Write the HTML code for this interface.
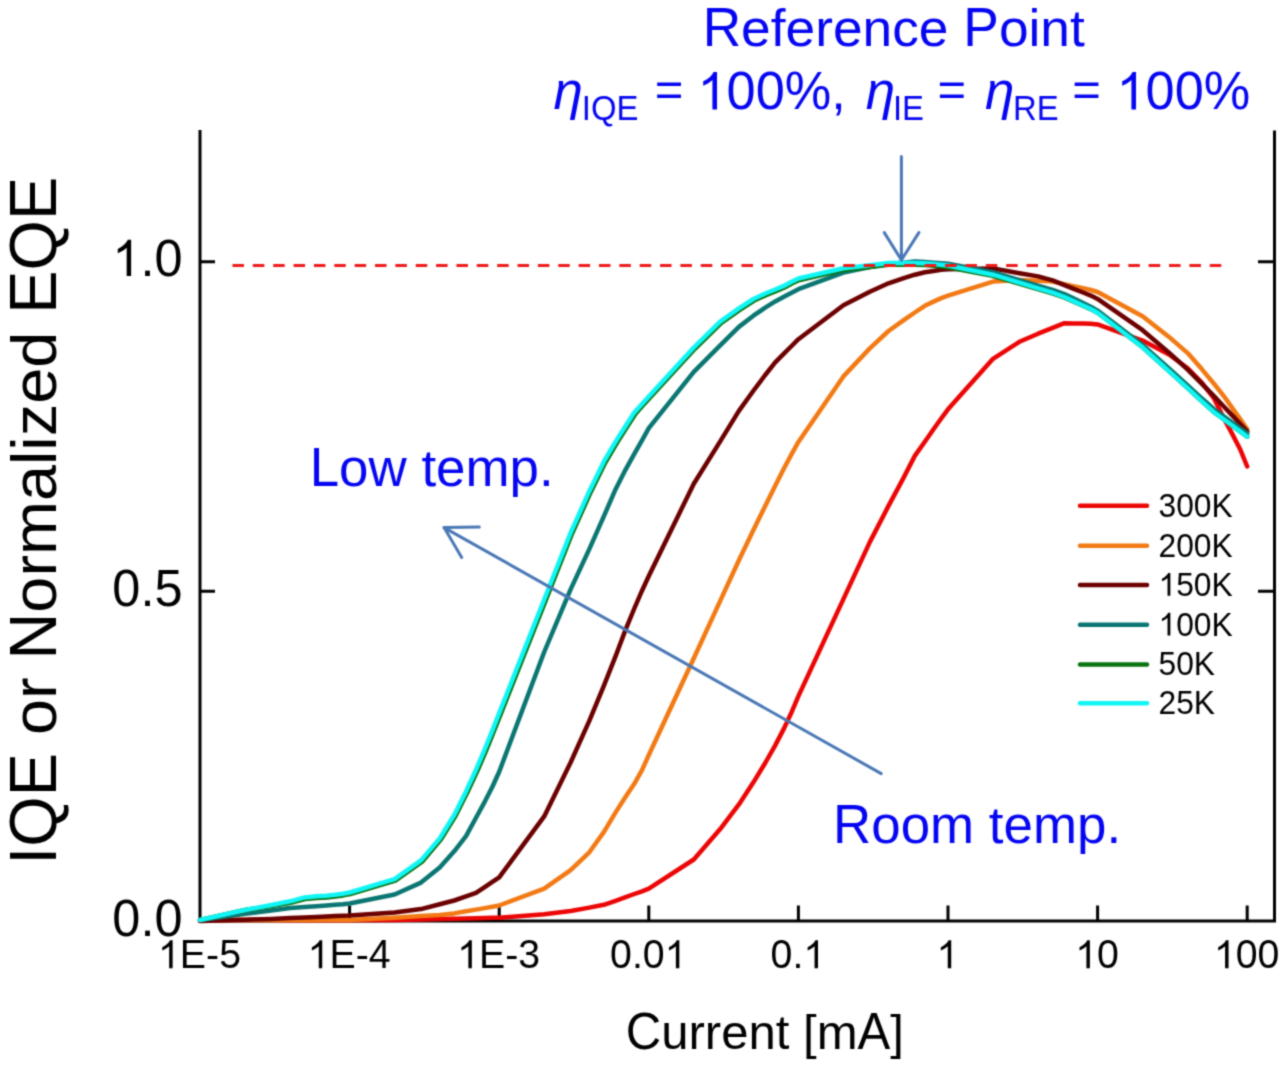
<!DOCTYPE html>
<html><head><meta charset="utf-8"><style>
html,body{margin:0;padding:0;background:#fff;overflow:hidden;}
svg{display:block;}
text{font-family:"Liberation Sans",sans-serif;}
</style></head><body>
<svg width="1280" height="1066" viewBox="0 0 1280 1066">
<defs><filter id="soft" x="0" y="0" width="1280" height="1066" filterUnits="userSpaceOnUse" color-interpolation-filters="sRGB"><feConvolveMatrix order="5" kernelMatrix="0.00003 0.00101 0.00331 0.00101 0.00003 0.00101 0.03529 0.11525 0.03529 0.00101 0.00331 0.11525 0.37636 0.11525 0.00331 0.00101 0.03529 0.11525 0.03529 0.00101 0.00003 0.00101 0.00331 0.00101 0.00003" divisor="1" edgeMode="duplicate" preserveAlpha="true"/></filter></defs>
<g filter="url(#soft)">
<rect width="1280" height="1066" fill="#fff"/>
<g transform="translate(702.63,45.70)" fill="#0505f2"><text x="0" y="0" transform="translate(0.00,0) scale(1,1.041)" font-size="53.3" xml:space="preserve">R</text><text x="0" y="0" transform="translate(38.49,0) scale(1,0.981)" font-size="53.3" xml:space="preserve">eference</text><text x="0" y="0" transform="translate(260.72,0) scale(1,1.041)" font-size="53.3" xml:space="preserve">P</text><text x="0" y="0" transform="translate(296.27,0) scale(1,0.981)" font-size="53.3" xml:space="preserve">oint</text></g>
<g transform="translate(553.42,109.40)" fill="#0505f2"><text x="0.00" y="0" font-size="53" font-style="italic" xml:space="preserve">η</text></g>
<g transform="translate(581.80,120.00)" fill="#0505f2"><text x="0" y="0" transform="translate(0.00,0) scale(1,1.041)" font-size="32.9" xml:space="preserve">IQE</text></g>
<g transform="translate(654.71,106.20)" fill="#0505f2"><text x="0.00" y="0" font-size="49" xml:space="preserve">=</text></g>
<g transform="translate(697.53,109.40)" fill="#0505f2"><path transform="translate(0.00,0) scale(0.02554,-0.02554)" d="M763,0 L583,0 L583,1147 C536,1102 474,1056 405,1015 C336,974 274,944 222,925 L222,1098 C318,1143 402,1198 474,1263 C546,1328 597,1396 627,1466 L763,1466 Z"/><text x="0" y="0" transform="translate(29.09,0) scale(1,1.041)" font-size="52.3" xml:space="preserve">00%</text><text x="133.76" y="0" font-size="52.3" xml:space="preserve">,</text></g>
<g transform="translate(865.72,109.40)" fill="#0505f2"><text x="0.00" y="0" font-size="53" font-style="italic" xml:space="preserve">η</text></g>
<g transform="translate(892.90,120.00)" fill="#0505f2"><text x="0" y="0" transform="translate(0.00,0) scale(1,1.041)" font-size="32.9" xml:space="preserve">IE</text></g>
<g transform="translate(937.41,106.20)" fill="#0505f2"><text x="0.00" y="0" font-size="49" xml:space="preserve">=</text></g>
<g transform="translate(984.92,109.40)" fill="#0505f2"><text x="0.00" y="0" font-size="53" font-style="italic" xml:space="preserve">η</text></g>
<g transform="translate(1012.90,120.00)" fill="#0505f2"><text x="0" y="0" transform="translate(0.00,0) scale(1,1.041)" font-size="32.9" xml:space="preserve">RE</text></g>
<g transform="translate(1072.21,106.20)" fill="#0505f2"><text x="0.00" y="0" font-size="49" xml:space="preserve">=</text></g>
<g transform="translate(1116.53,109.40)" fill="#0505f2"><path transform="translate(0.00,0) scale(0.02554,-0.02554)" d="M763,0 L583,0 L583,1147 C536,1102 474,1056 405,1015 C336,974 274,944 222,925 L222,1098 C318,1143 402,1198 474,1263 C546,1328 597,1396 627,1466 L763,1466 Z"/><text x="0" y="0" transform="translate(29.09,0) scale(1,1.041)" font-size="52.3" xml:space="preserve">00%</text></g>
<g stroke="#000" stroke-width="3" fill="none">
<path d="M200 130 V921 H1274.5 V130.5"/>
<path d="M200 261.7 H215 M200 591.2 H215 M1274.5 261.7 H1258 M1274.5 591.2 H1258"/>
<path d="M349.6 921 V905.5 M499.2 921 V905.5 M648.8 921 V905.5 M798.4 921 V905.5 M948.0 921 V905.5 M1097.6 921 V905.5 M1247.2 921 V905.5 "/>
</g>
<g transform="translate(182.50,276.00)" fill="#000"><path transform="translate(-70.20,0) scale(0.02466,-0.02466)" d="M763,0 L583,0 L583,1147 C536,1102 474,1056 405,1015 C336,974 274,944 222,925 L222,1098 C318,1143 402,1198 474,1263 C546,1328 597,1396 627,1466 L763,1466 Z"/><text x="-42.12" y="0" font-size="50.5" xml:space="preserve">.</text><text x="0" y="0" transform="translate(-28.09,0) scale(1,1.041)" font-size="50.5" xml:space="preserve">0</text></g>
<g transform="translate(182.50,605.80)" fill="#000"><text x="0" y="0" transform="translate(-70.20,0) scale(1,1.041)" font-size="50.5" xml:space="preserve">0</text><text x="-42.12" y="0" font-size="50.5" xml:space="preserve">.</text><text x="0" y="0" transform="translate(-28.09,0) scale(1,1.041)" font-size="50.5" xml:space="preserve">5</text></g>
<g transform="translate(182.50,935.50)" fill="#000"><text x="0" y="0" transform="translate(-70.20,0) scale(1,1.041)" font-size="50.5" xml:space="preserve">0</text><text x="-42.12" y="0" font-size="50.5" xml:space="preserve">.</text><text x="0" y="0" transform="translate(-28.09,0) scale(1,1.041)" font-size="50.5" xml:space="preserve">0</text></g>
<g transform="translate(199.50,968.30)" fill="#000"><path transform="translate(-41.51,0) scale(0.01919,-0.01919)" d="M763,0 L583,0 L583,1147 C536,1102 474,1056 405,1015 C336,974 274,944 222,925 L222,1098 C318,1143 402,1198 474,1263 C546,1328 597,1396 627,1466 L763,1466 Z"/><text x="0" y="0" transform="translate(-19.65,0) scale(1,1.041)" font-size="39.3" xml:space="preserve">E</text><text x="6.56" y="0" font-size="39.3" xml:space="preserve">-</text><text x="0" y="0" transform="translate(19.65,0) scale(1,1.041)" font-size="39.3" xml:space="preserve">5</text></g>
<g transform="translate(349.10,968.30)" fill="#000"><path transform="translate(-41.51,0) scale(0.01919,-0.01919)" d="M763,0 L583,0 L583,1147 C536,1102 474,1056 405,1015 C336,974 274,944 222,925 L222,1098 C318,1143 402,1198 474,1263 C546,1328 597,1396 627,1466 L763,1466 Z"/><text x="0" y="0" transform="translate(-19.65,0) scale(1,1.041)" font-size="39.3" xml:space="preserve">E</text><text x="6.56" y="0" font-size="39.3" xml:space="preserve">-</text><text x="0" y="0" transform="translate(19.65,0) scale(1,1.041)" font-size="39.3" xml:space="preserve">4</text></g>
<g transform="translate(498.70,968.30)" fill="#000"><path transform="translate(-41.51,0) scale(0.01919,-0.01919)" d="M763,0 L583,0 L583,1147 C536,1102 474,1056 405,1015 C336,974 274,944 222,925 L222,1098 C318,1143 402,1198 474,1263 C546,1328 597,1396 627,1466 L763,1466 Z"/><text x="0" y="0" transform="translate(-19.65,0) scale(1,1.041)" font-size="39.3" xml:space="preserve">E</text><text x="6.56" y="0" font-size="39.3" xml:space="preserve">-</text><text x="0" y="0" transform="translate(19.65,0) scale(1,1.041)" font-size="39.3" xml:space="preserve">3</text></g>
<g transform="translate(648.30,968.30)" fill="#000"><text x="0" y="0" transform="translate(-38.24,0) scale(1,1.041)" font-size="39.3" xml:space="preserve">0</text><text x="-16.39" y="0" font-size="39.3" xml:space="preserve">.</text><text x="0" y="0" transform="translate(-5.47,0) scale(1,1.041)" font-size="39.3" xml:space="preserve">0</text><path transform="translate(16.39,0) scale(0.01919,-0.01919)" d="M763,0 L583,0 L583,1147 C536,1102 474,1056 405,1015 C336,974 274,944 222,925 L222,1098 C318,1143 402,1198 474,1263 C546,1328 597,1396 627,1466 L763,1466 Z"/></g>
<g transform="translate(797.90,968.30)" fill="#000"><text x="0" y="0" transform="translate(-27.32,0) scale(1,1.041)" font-size="39.3" xml:space="preserve">0</text><text x="-5.46" y="0" font-size="39.3" xml:space="preserve">.</text><path transform="translate(5.46,0) scale(0.01919,-0.01919)" d="M763,0 L583,0 L583,1147 C536,1102 474,1056 405,1015 C336,974 274,944 222,925 L222,1098 C318,1143 402,1198 474,1263 C546,1328 597,1396 627,1466 L763,1466 Z"/></g>
<g transform="translate(947.50,968.30)" fill="#000"><path transform="translate(-10.93,0) scale(0.01919,-0.01919)" d="M763,0 L583,0 L583,1147 C536,1102 474,1056 405,1015 C336,974 274,944 222,925 L222,1098 C318,1143 402,1198 474,1263 C546,1328 597,1396 627,1466 L763,1466 Z"/></g>
<g transform="translate(1097.10,968.30)" fill="#000"><path transform="translate(-21.86,0) scale(0.01919,-0.01919)" d="M763,0 L583,0 L583,1147 C536,1102 474,1056 405,1015 C336,974 274,944 222,925 L222,1098 C318,1143 402,1198 474,1263 C546,1328 597,1396 627,1466 L763,1466 Z"/><text x="0" y="0" transform="translate(0.00,0) scale(1,1.041)" font-size="39.3" xml:space="preserve">0</text></g>
<g transform="translate(1246.70,968.30)" fill="#000"><path transform="translate(-32.79,0) scale(0.01919,-0.01919)" d="M763,0 L583,0 L583,1147 C536,1102 474,1056 405,1015 C336,974 274,944 222,925 L222,1098 C318,1143 402,1198 474,1263 C546,1328 597,1396 627,1466 L763,1466 Z"/><text x="0" y="0" transform="translate(-10.93,0) scale(1,1.041)" font-size="39.3" xml:space="preserve">00</text></g>
<g transform="translate(625.71,1049.30)" fill="#000"><text x="0" y="0" transform="translate(0.00,0) scale(1,1.041)" font-size="49.1" xml:space="preserve">C</text><text x="0" y="0" transform="translate(35.46,0) scale(1,0.981)" font-size="49.1" xml:space="preserve">urrent</text><text x="0" y="0" transform="translate(177.36,0) scale(1,0.981)" font-size="49.1" xml:space="preserve">[m</text><text x="0" y="0" transform="translate(231.91,0) scale(1,1.041)" font-size="49.1" xml:space="preserve">A</text><text x="0" y="0" transform="translate(264.66,0) scale(1,0.981)" font-size="49.1" xml:space="preserve">]</text></g>
<g transform="translate(55.80,864.68) rotate(-90)" fill="#000"><text x="0" y="0" transform="translate(0.00,0) scale(1,1.041)" font-size="64.8" xml:space="preserve">IQE</text><text x="0" y="0" transform="translate(129.63,0) scale(1,0.981)" font-size="64.8" xml:space="preserve">or</text><text x="0" y="0" transform="translate(205.25,0) scale(1,1.041)" font-size="64.8" xml:space="preserve">N</text><text x="0" y="0" transform="translate(252.05,0) scale(1,0.981)" font-size="64.8" xml:space="preserve">ormalized</text><text x="0" y="0" transform="translate(550.96,0) scale(1,1.041)" font-size="64.8" xml:space="preserve">EQE</text></g>
<g fill="none" stroke-width="4.5" stroke-linejoin="round" stroke-linecap="round">
<polyline stroke="#ec0505" points="200.0,920.0 245.0,920.1 271.4,920.1 290.1,920.2 304.6,920.2 316.4,920.2 326.4,920.2 335.1,920.2 342.8,920.2 349.6,920.2 394.6,920.0 421.0,919.4 439.7,919.0 454.2,918.7 466.0,918.4 476.0,918.2 484.7,918.0 492.4,917.8 499.2,917.7 544.2,914.3 570.6,911.0 589.3,907.6 603.8,904.8 615.6,900.8 625.6,897.2 634.3,894.0 642.0,891.3 648.8,888.7 693.8,859.5 720.2,829.1 738.9,804.4 753.4,782.3 765.2,763.0 775.2,745.4 783.9,728.6 791.6,712.2 798.4,696.1 843.4,599.1 869.8,542.1 888.5,505.9 903.0,478.9 914.8,455.9 924.8,441.7 933.5,429.3 941.2,418.5 948.0,409.3 993.0,358.8 1019.4,341.8 1038.1,333.7 1052.6,327.9 1064.4,323.2 1074.4,323.4 1083.1,323.6 1090.8,323.7 1097.6,324.4 1142.6,340.6 1169.0,354.5 1187.7,368.2 1202.2,383.1 1214.0,398.5 1224.0,418.6 1232.7,434.9 1240.4,449.8 1247.2,466.5"/>
<polyline stroke="#f27a14" points="200.0,920.0 245.0,920.0 271.4,920.0 290.1,920.0 304.6,920.0 316.4,920.0 326.4,920.0 335.1,920.0 342.8,920.0 349.6,920.0 394.6,917.7 421.0,916.0 439.7,914.9 454.2,913.4 466.0,911.3 476.0,909.6 484.7,908.1 492.4,906.8 499.2,905.5 544.2,888.7 570.6,870.2 589.3,852.3 603.8,832.1 615.6,812.4 625.6,796.8 634.3,783.8 642.0,770.1 648.8,755.0 693.8,658.2 720.2,600.9 738.9,560.2 753.4,530.0 765.2,505.9 775.2,485.8 783.9,468.5 791.6,454.1 798.4,441.9 843.4,376.4 869.8,348.4 888.5,331.0 903.0,320.6 914.8,312.5 924.8,305.8 933.5,301.6 941.2,298.1 948.0,295.7 993.0,281.6 1019.4,279.9 1038.1,280.8 1052.6,281.6 1064.4,284.1 1074.4,286.4 1083.1,288.3 1090.8,290.0 1097.6,292.0 1142.6,316.2 1169.0,336.9 1187.7,353.1 1202.2,369.6 1214.0,383.8 1224.0,396.3 1232.7,408.6 1240.4,419.4 1247.2,429.2"/>
<polyline stroke="#6c0000" points="200.0,921.0 245.0,919.7 271.4,918.9 290.1,918.1 304.6,917.5 316.4,917.0 326.4,916.5 335.1,916.1 342.8,915.8 349.6,915.5 394.6,912.5 421.0,909.1 439.7,904.3 454.2,900.5 466.0,896.4 476.0,892.9 484.7,887.1 492.4,881.9 499.2,877.3 544.2,816.4 570.6,762.5 589.3,720.9 603.8,685.8 615.6,656.2 625.6,629.6 634.3,608.5 642.0,590.7 648.8,576.0 693.8,483.7 720.2,441.4 738.9,410.9 753.4,390.7 765.2,375.0 775.2,362.4 783.9,353.6 791.6,346.0 798.4,339.2 843.4,305.2 869.8,291.7 888.5,283.3 903.0,278.3 914.8,274.7 924.8,272.2 933.5,270.9 941.2,269.8 948.0,269.2 993.0,268.4 1019.4,273.3 1038.1,276.4 1052.6,280.3 1064.4,285.1 1074.4,289.1 1083.1,292.5 1090.8,295.6 1097.6,298.9 1142.6,330.2 1169.0,352.6 1187.7,369.6 1202.2,384.1 1214.0,396.1 1224.0,406.7 1232.7,415.9 1240.4,424.0 1247.2,431.3"/>
<polyline stroke="#0a7672" points="200.0,920.0 245.0,913.8 271.4,910.5 290.1,908.1 304.6,907.1 316.4,906.3 326.4,905.5 335.1,904.8 342.8,904.2 349.6,903.5 394.6,894.5 421.0,882.6 439.7,867.4 454.2,851.3 466.0,836.1 476.0,817.7 484.7,801.8 492.4,786.8 499.2,771.8 544.2,652.0 570.6,589.4 589.3,549.1 603.8,516.4 615.6,489.2 625.6,469.6 634.3,453.9 642.0,440.3 648.8,428.2 693.8,371.9 720.2,345.4 738.9,326.9 753.4,315.7 765.2,307.7 775.2,301.4 783.9,296.7 791.6,292.7 798.4,289.2 843.4,272.6 869.8,267.0 888.5,264.0 903.0,262.7 914.8,261.6 924.8,262.1 933.5,262.7 941.2,263.2 948.0,263.8 993.0,272.2 1019.4,280.2 1038.1,285.6 1052.6,289.8 1064.4,294.1 1074.4,298.9 1083.1,303.1 1090.8,306.7 1097.6,310.6 1142.6,345.0 1169.0,368.4 1187.7,385.3 1202.2,398.8 1214.0,409.3 1224.0,416.6 1232.7,422.9 1240.4,428.5 1247.2,433.4"/>
<polyline stroke="#087310" points="200.0,920.0 245.0,910.0 271.6,906.0 290.4,902.9 304.9,899.1 316.5,898.0 326.6,897.4 335.3,896.4 343.0,895.4 350.1,894.1 395.3,880.6 422.1,861.7 441.0,839.4 455.6,815.8 467.5,792.1 477.6,770.4 486.3,750.1 493.9,731.1 500.8,713.8 545.8,600.2 572.1,533.5 590.8,491.9 605.3,462.5 617.1,442.5 627.1,426.9 635.7,413.5 643.2,405.1 650.1,397.5 695.1,348.6 721.3,322.9 739.8,309.8 754.2,300.5 765.9,295.1 775.9,291.1 784.6,287.4 792.3,283.3 798.8,280.2 843.7,269.9 870.0,267.0 888.6,264.7 903.0,264.4 914.8,264.7 924.7,264.9 933.3,265.7 941.0,266.5 947.7,267.2 992.7,275.9 1019.1,283.6 1037.8,289.1 1052.4,293.3 1064.2,297.4 1074.3,301.9 1083.0,305.7 1090.7,309.1 1097.6,312.8 1142.6,347.3 1169.0,371.1 1187.7,388.1 1202.2,401.6 1214.0,412.2 1224.0,419.5 1232.7,425.9 1240.4,431.6 1247.2,436.6"/>
<polyline stroke="#10f5f5" points="200.0,920.0 245.0,910.0 271.4,905.0 290.1,901.3 304.6,897.4 316.4,896.3 326.4,895.7 335.1,894.8 342.8,893.7 349.6,892.5 394.6,879.1 421.0,860.4 439.7,838.4 454.2,815.0 466.0,791.4 476.0,769.7 484.7,749.4 492.4,730.4 499.2,713.1 544.2,599.5 570.6,532.9 589.3,491.2 603.8,461.7 615.6,441.6 625.6,426.0 634.3,412.4 642.0,404.0 648.8,396.4 693.8,347.5 720.2,321.6 738.9,308.4 753.4,299.0 765.2,293.5 775.2,289.5 783.9,285.9 791.6,281.8 798.4,278.5 843.4,268.2 869.8,265.3 888.5,263.0 903.0,262.7 914.8,263.0 924.8,263.2 933.5,264.0 941.2,264.8 948.0,265.5 993.0,274.7 1019.4,282.7 1038.1,288.3 1052.6,292.7 1064.4,297.0 1074.4,301.6 1083.1,305.5 1090.8,309.0 1097.6,312.8 1142.6,347.3 1169.0,371.1 1187.7,388.1 1202.2,401.6 1214.0,412.2 1224.0,419.5 1232.7,425.9 1240.4,431.6 1247.2,436.6"/>
</g>
<path d="M232.5 265.5 H1221.5" stroke="#ee1a1a" stroke-width="3" stroke-dasharray="11.5 8.86" fill="none"/>
<g stroke="#4a78b6" stroke-width="3" fill="none" stroke-linecap="round" stroke-linejoin="round">
<path d="M901.4 156.5 V260"/><path d="M884.3 232.6 L901.4 260 L918.9 232.6"/>
<path d="M881.2 773.6 L444.1 527.6"/><path d="M479.3 527.0 L444.1 527.6 L461.7 557.4"/>
</g>
<path d="M1080 505.8 H1147" stroke="#ec0505" stroke-width="4.5" stroke-linecap="round"/>
<g transform="translate(1158.50,516.60)" fill="#000"><text x="0" y="0" transform="translate(0.00,0) scale(1,1.041)" font-size="31.8" xml:space="preserve">300K</text></g>
<path d="M1080 545.7 H1147" stroke="#f27a14" stroke-width="4.5" stroke-linecap="round"/>
<g transform="translate(1158.50,556.50)" fill="#000"><text x="0" y="0" transform="translate(0.00,0) scale(1,1.041)" font-size="31.8" xml:space="preserve">200K</text></g>
<path d="M1080 584.9 H1147" stroke="#6c0000" stroke-width="4.5" stroke-linecap="round"/>
<g transform="translate(1158.50,595.70)" fill="#000"><path transform="translate(0.00,0) scale(0.01553,-0.01553)" d="M763,0 L583,0 L583,1147 C536,1102 474,1056 405,1015 C336,974 274,944 222,925 L222,1098 C318,1143 402,1198 474,1263 C546,1328 597,1396 627,1466 L763,1466 Z"/><text x="0" y="0" transform="translate(17.69,0) scale(1,1.041)" font-size="31.8" xml:space="preserve">50K</text></g>
<path d="M1080 624.8 H1147" stroke="#0a7672" stroke-width="4.5" stroke-linecap="round"/>
<g transform="translate(1158.50,635.60)" fill="#000"><path transform="translate(0.00,0) scale(0.01553,-0.01553)" d="M763,0 L583,0 L583,1147 C536,1102 474,1056 405,1015 C336,974 274,944 222,925 L222,1098 C318,1143 402,1198 474,1263 C546,1328 597,1396 627,1466 L763,1466 Z"/><text x="0" y="0" transform="translate(17.69,0) scale(1,1.041)" font-size="31.8" xml:space="preserve">00K</text></g>
<path d="M1080 664.6 H1147" stroke="#087310" stroke-width="4.5" stroke-linecap="round"/>
<g transform="translate(1158.50,675.40)" fill="#000"><text x="0" y="0" transform="translate(0.00,0) scale(1,1.041)" font-size="31.8" xml:space="preserve">50K</text></g>
<path d="M1080 703.3 H1147" stroke="#10f5f5" stroke-width="4.5" stroke-linecap="round"/>
<g transform="translate(1158.50,714.10)" fill="#000"><text x="0" y="0" transform="translate(0.00,0) scale(1,1.041)" font-size="31.8" xml:space="preserve">25K</text></g>
<g transform="translate(309.66,485.80)" fill="#0505f2"><text x="0" y="0" transform="translate(0.00,0) scale(1,1.041)" font-size="52.9" xml:space="preserve">L</text><text x="0" y="0" transform="translate(29.42,0) scale(1,0.981)" font-size="52.9" xml:space="preserve">ow</text><text x="0" y="0" transform="translate(111.74,0) scale(1,0.981)" font-size="52.9" xml:space="preserve">temp</text><text x="229.35" y="0" font-size="52.9" xml:space="preserve">.</text></g>
<g transform="translate(833.06,842.80)" fill="#0505f2"><text x="0" y="0" transform="translate(0.00,0) scale(1,1.041)" font-size="52.9" xml:space="preserve">R</text><text x="0" y="0" transform="translate(38.20,0) scale(1,0.981)" font-size="52.9" xml:space="preserve">oom</text><text x="0" y="0" transform="translate(155.81,0) scale(1,0.981)" font-size="52.9" xml:space="preserve">temp</text><text x="273.41" y="0" font-size="52.9" xml:space="preserve">.</text></g>
</g>
</svg>
</body></html>
